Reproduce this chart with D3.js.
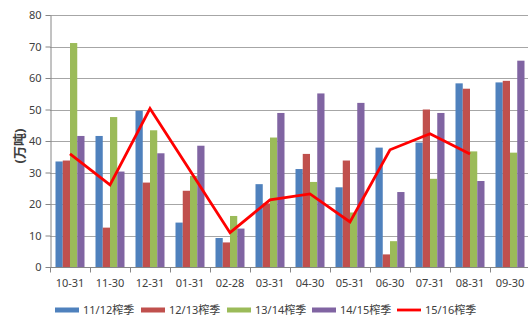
<!DOCTYPE html>
<html>
<head>
<meta charset="utf-8">
<script src="https://cdn.jsdelivr.net/npm/d3@7"></script>
<style>
  html, body { margin: 0; padding: 0; background: #fff; }
  svg { display: block; }
  text { font-family: "Noto Sans", "Noto Sans CJK SC", sans-serif; fill: #404040; }
</style>
</head>
<body>
<svg id="chart" width="528" height="320"></svg>
<script>
// Month-end dates of the crushing season
const categories = ["10-31", "11-30", "12-31", "01-31", "02-28", "03-31", "04-30", "05-31", "06-30", "07-31", "08-31", "09-30"];

// Bar series (万吨)
const season1112 = [33.5, 41.6, 49.6, 14.1, 9.2, 26.3, 31.1, 25.3, 37.9, 39.5, 58.3, 58.6];
const season1213 = [33.8, 12.5, 26.8, 24.2, 7.8, 20.2, 35.9, 33.8, 4.0, 50.0, 56.6, 59.1];
const season1314 = [71.1, 47.6, 43.4, 28.9, 16.2, 41.1, 27.0, 17.3, 8.2, 28.0, 36.7, 36.3];
const season1415 = [41.6, 30.3, 36.1, 38.5, 12.2, 48.9, 55.1, 52.1, 23.8, 48.9, 27.3, 65.5];

// Line series, current season (no value yet for 09-30)
const season1516 = [35.9, 26.1, 50.3, 30.6, 10.9, 21.3, 23.2, 14.3, 37.2, 42.3, 35.9, null];

const yTicks = [0, 10, 20, 30, 40, 50, 60, 70, 80];

const barSeries = [
  { name: "11/12榨季", values: season1112, color: "#4F81BD" },
  { name: "12/13榨季", values: season1213, color: "#C0504D" },
  { name: "13/14榨季", values: season1314, color: "#9BBB59" },
  { name: "14/15榨季", values: season1415, color: "#8064A2" }
];
const lineSeries = { name: "15/16榨季", values: season1516, color: "#FF0000" };

const svg = d3.select("#chart");
const plot = { left: 50, right: 530, top: 15, bottom: 267 };

const x = d3.scaleBand().domain(categories).range([plot.left, plot.right]).padding(0);
const inner = d3.scaleBand()
  .domain(barSeries.map(s => s.name))
  .range([5.5, x.bandwidth() - 5.5])
  .padding(0);
const y = d3.scaleLinear().domain([0, 80]).range([plot.bottom, plot.top]);

// Horizontal gridlines
svg.append("g")
  .selectAll("line")
  .data(yTicks.filter(t => t > 0))
  .join("line")
  .attr("x1", plot.left).attr("x2", 528)
  .attr("y1", d => Math.round(y(d)) + 0.5).attr("y2", d => Math.round(y(d)) + 0.5)
  .attr("stroke", "#a6a6a6").attr("stroke-width", 1);

// Bars
const groups = svg.append("g")
  .selectAll("g")
  .data(barSeries)
  .join("g")
  .attr("fill", d => d.color);

groups.selectAll("rect")
  .data(s => s.values.map((v, i) => ({ name: s.name, cat: categories[i], v })))
  .join("rect")
  .attr("x", d => x(d.cat) + inner(d.name))
  .attr("width", inner.bandwidth())
  .attr("y", d => y(d.v))
  .attr("height", d => y(0) - y(d.v));

// Y axis
const yAxis = svg.append("g")
  .attr("transform", `translate(${plot.left + 0.5},0)`)
  .call(d3.axisLeft(y).tickValues(yTicks).tickSize(5).tickPadding(4).tickSizeOuter(0));
yAxis.select(".domain").attr("stroke", "#868686");
yAxis.selectAll(".tick line").attr("stroke", "#868686");
yAxis.selectAll(".tick text").attr("font-size", 11).attr("fill", "#404040")
  .attr("font-family", "\"Noto Sans\", sans-serif");

// X axis with ticks at category boundaries
const xAxisG = svg.append("g")
  .attr("transform", `translate(0,${plot.bottom + 0.5})`);
xAxisG.append("line")
  .attr("x1", plot.left).attr("x2", 528)
  .attr("stroke", "#868686");
xAxisG.selectAll("line.tick")
  .data(categories.map(c => x(c)).concat([plot.right]))
  .join("line")
  .attr("class", "tick")
  .attr("x1", d => d + 0.5).attr("x2", d => d + 0.5)
  .attr("y1", 0).attr("y2", 5)
  .attr("stroke", "#868686");
xAxisG.selectAll("text")
  .data(categories)
  .join("text")
  .attr("x", d => x(d) + x.bandwidth() / 2)
  .attr("y", 16)
  .attr("dy", "0.35em")
  .attr("text-anchor", "middle")
  .attr("font-size", 11)
  .text(d => d);

// Line series
const line = d3.line()
  .defined(d => d.v != null)
  .x(d => x(d.cat) + x.bandwidth() / 2)
  .y(d => y(d.v));
svg.append("path")
  .datum(lineSeries.values.map((v, i) => ({ cat: categories[i], v })))
  .attr("d", line)
  .attr("fill", "none")
  .attr("stroke", lineSeries.color)
  .attr("stroke-width", 2.8)
  .attr("stroke-linejoin", "miter");

// Y axis title
svg.append("text")
  .attr("transform", "translate(19,146) rotate(-90)")
  .attr("text-anchor", "middle")
  .attr("dy", "0.35em")
  .attr("font-size", 13)
  .attr("font-weight", "bold")
  .attr("font-family", "\"Noto Sans CJK SC\", sans-serif")
  .text("(万吨)");

// Legend
const legendItems = barSeries.map(s => ({ name: s.name, color: s.color, type: "bar" }))
  .concat([{ name: lineSeries.name, color: lineSeries.color, type: "line" }]);
const legendX = [55, 141, 227, 312, 397];
const legend = svg.append("g").attr("transform", "translate(0,310)");
const item = legend.selectAll("g")
  .data(legendItems)
  .join("g")
  .attr("transform", (d, i) => `translate(${legendX[i]},0)`);
item.filter(d => d.type === "bar").append("rect")
  .attr("x", 0).attr("y", -2.5).attr("width", 24).attr("height", 5)
  .attr("fill", d => d.color);
item.filter(d => d.type === "line").append("line")
  .attr("x1", 0).attr("x2", 24).attr("y1", 0).attr("y2", 0)
  .attr("stroke", d => d.color).attr("stroke-width", 2.8);
item.append("text")
  .attr("x", 28)
  .attr("dy", "0.35em")
  .attr("font-size", 11)
  .text(d => d.name);
</script>
</body>
</html>
